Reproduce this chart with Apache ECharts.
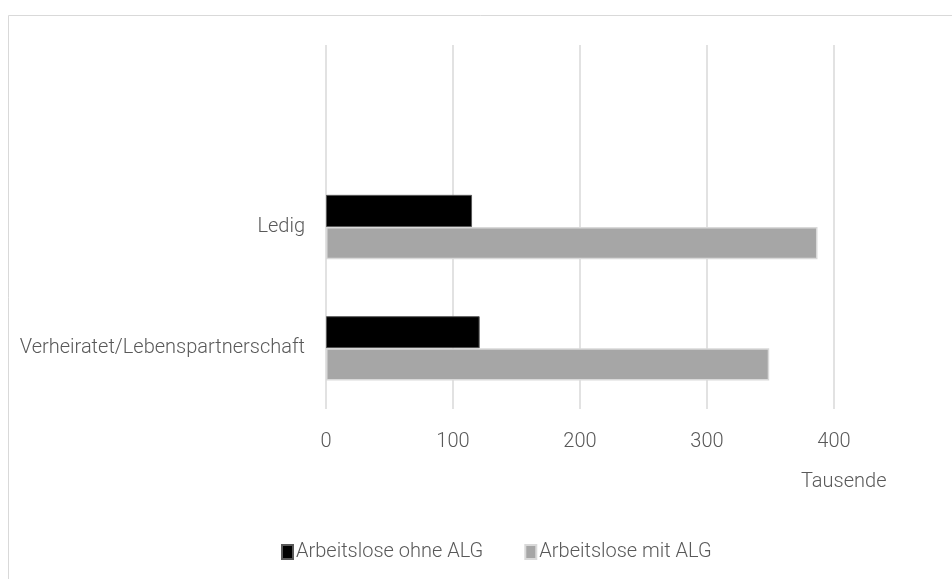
<!DOCTYPE html>
<html>
<head>
<meta charset="utf-8">
<script src="https://cdn.jsdelivr.net/npm/echarts@6/dist/echarts.min.js"></script>
<style>html,body{margin:0;padding:0;background:#fff;}#chart{width:952px;height:579px;}</style>
</head>
<body>
<div id="chart"></div>
<script>
const categories = ['Verheiratet/Lebenspartnerschaft', 'Ledig', ''];
const ohneALG = [121, 115, null];
const mitALG = [349, 387, null];
const seriesNames = ['Arbeitslose ohne ALG', 'Arbeitslose mit ALG'];
const xTicks = { min: 0, max: 400, interval: 100 };
const unitLabel = 'Tausende';

const chart = echarts.init(document.getElementById('chart'), null, { renderer: 'canvas' });
const font = 'Roboto';
chart.setOption({
  animation: false,
  backgroundColor: '#fff',
  grid: { left: 326, right: 118, top: 45, bottom: 170, containLabel: false },
  xAxis: {
    type: 'value', min: xTicks.min, max: xTicks.max, interval: xTicks.interval,
    axisLine: { show: false }, axisTick: { show: false },
    splitLine: { lineStyle: { color: '#d9d9d9', width: 1.5 } },
    axisLabel: { color: '#595959', fontFamily: font, fontWeight: 300, fontSize: 20, margin: 23 }
  },
  yAxis: {
    type: 'category', data: categories,
    axisLine: { show: false }, axisTick: { show: false },
    axisLabel: { color: '#595959', fontFamily: font, fontWeight: 300, fontSize: 20, margin: 21 }
  },
  legend: {
    bottom: 12, left: 276, itemWidth: 11, itemHeight: 14, itemGap: 41, icon: 'rect',
    textStyle: { color: '#595959', fontFamily: font, fontWeight: 300, fontSize: 20, padding: [0, 0, 0, -2] },
    data: seriesNames
  },
  graphic: [
    { type: 'rect', silent: true, shape: { x: 8.5, y: 15.5, width: 1000, height: 600 },
      style: { fill: 'none', stroke: '#d9d9d9', lineWidth: 1 } },
    { type: 'text', left: 801, top: 472,
      style: { text: unitLabel, fill: '#595959', font: '300 20px Roboto' } }
  ],
  series: [
    { name: seriesNames[0], type: 'bar', data: ohneALG, barGap: '0%', barCategoryGap: '47%',
      itemStyle: { color: '#000000', borderColor: '#595959', borderWidth: 1 } },
    { name: seriesNames[1], type: 'bar', data: mitALG, barGap: '0%', barCategoryGap: '47%',
      itemStyle: { color: '#a6a6a6', borderColor: '#d9d9d9', borderWidth: 1.5 } }
  ]
});
</script>
</body>
</html>
